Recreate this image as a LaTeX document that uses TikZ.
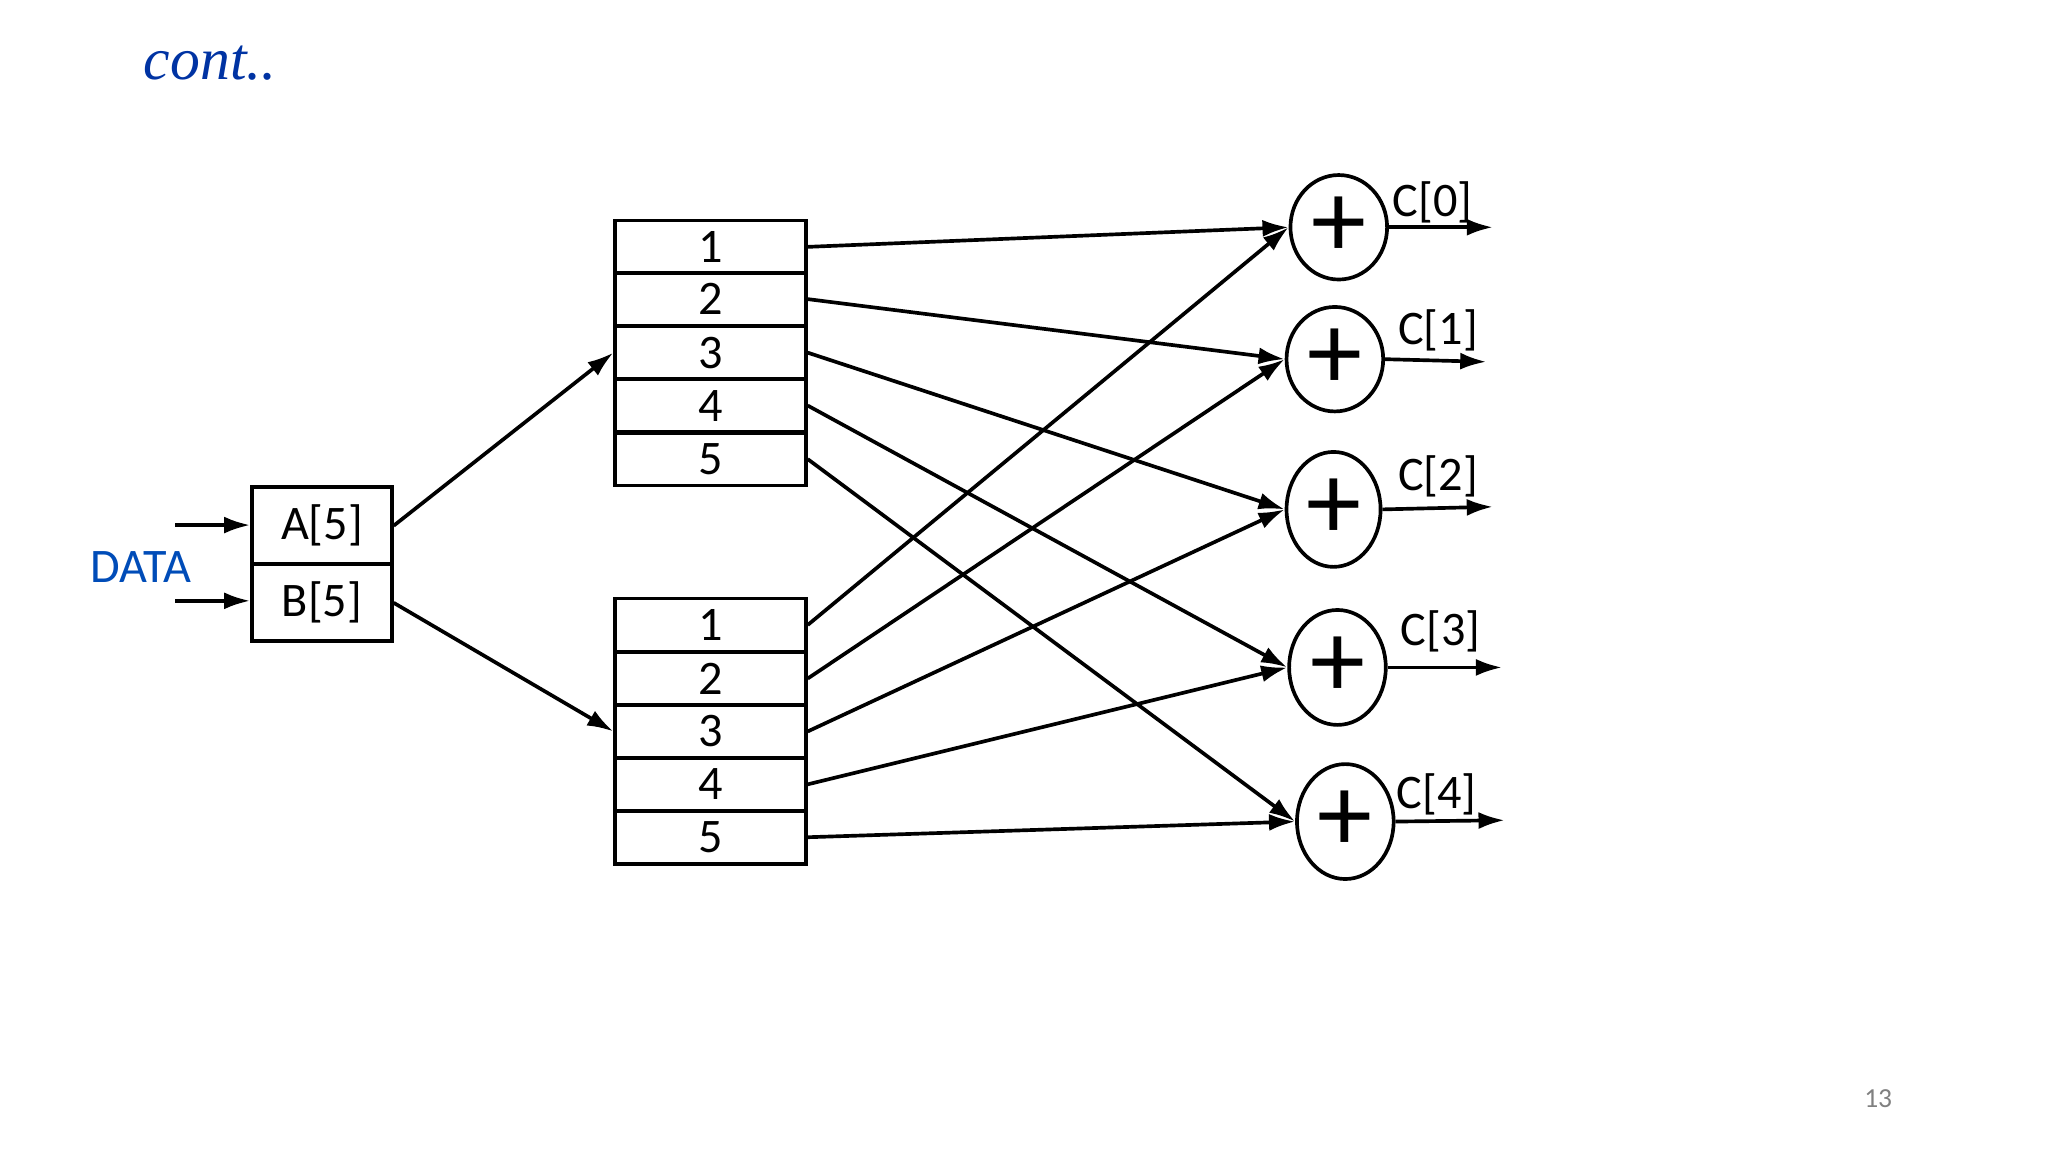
\documentclass[tikz,border=0pt]{standalone}
\usepackage{fontspec}
\setmainfont{Carlito}
\newfontfamily\titlefont{Liberation Serif}
\usetikzlibrary{shapes.geometric,arrows.meta}
\begin{document}
\begin{tikzpicture}[x=0.1mm,y=-0.1mm,
  cell/.style={draw,thick,minimum width=14.6mm,minimum height=4.05mm,inner sep=0pt,font=\fontsize{10.5}{12}\selectfont},
  ab/.style={draw,thick,minimum width=10.7mm,minimum height=5.9mm,inner sep=0pt,font=\fontsize{10.5}{12}\selectfont},
  adder/.style={draw,thick,ellipse,inner sep=0pt,font=\fontsize{24}{26}\selectfont},
  lbl/.style={font=\fontsize{10.5}{12}\selectfont},
  arr/.style={-{Latex[length=2mm,width=1.3mm]},thick},
  ln/.style={thick}]
\useasboundingbox (0,0) rectangle (1568,882);
\node[font=\titlefont\itshape\fontsize{13}{15}\selectfont,text=blue!55!black!80!cyan] (title) at (161,48) {cont..};
\node[ab] (A) at (246.5,402.5) {A[5]};
\node[ab] (B) at (246.5,461.5) {B[5]};
\node[lbl,text=blue!60!black!70!cyan] (data) at (108,434) {DATA};
\coordinate (ia) at (134,402); \coordinate (ib) at (134,460);
\draw[arr] (ia) -- (A.west|-ia);
\draw[arr] (ib) -- (B.west|-ib);
\foreach \i/\y in {1/189,2/229,3/270,4/310.5,5/351.5}{\node[cell] (t\i) at (544,\y) {\i};}
\foreach \i/\y in {1/478.5,2/519.5,3/560,4/600.5,5/641}{\node[cell] (b\i) at (544,\y) {\i};}
\draw[arr] (A.east) -- (t3.west);
\draw[arr] (B.east) -- (b3.west);
\node[adder,minimum width=7.4mm,minimum height=8mm] (c0) at (1025,174) {+};
\node[adder,minimum width=7.4mm,minimum height=8mm] (c1) at (1022,275) {+};
\node[adder,minimum width=7.2mm,minimum height=8.8mm] (c2) at (1021,390) {+};
\node[adder,minimum width=7.4mm,minimum height=8.8mm] (c3) at (1024,511) {+};
\node[adder,minimum width=7.4mm,minimum height=8.8mm] (c4) at (1030,629) {+};
\foreach \i in {1,...,5}{
  \pgfmathtruncatemacro{\j}{\i-1}
  \draw[arr] (t\i.east) -- (c\j.west);
  \draw[arr] (b\i.east) -- (c\j.west);
}
\coordinate (o0) at (1143,174); \coordinate (o1) at (1138,277); \coordinate (o2) at (1143,388);
\coordinate (o3) at (1150,511); \coordinate (o4) at (1152,628);
\foreach \i in {0,...,4}{\draw[arr] (c\i.east) -- (o\i);}
\node[lbl] (l0) at (1097,155) {C[0]};
\node[lbl] (l1) at (1101,253) {C[1]};
\node[lbl] (l2) at (1101,365) {C[2]};
\node[lbl] (l3) at (1103,483) {C[3]};
\node[lbl] (l4) at (1100,608) {C[4]};
\node[font=\fontsize{6}{7}\selectfont,text=gray] (pg) at (1438,841) {13};
\end{tikzpicture}
\end{document}
